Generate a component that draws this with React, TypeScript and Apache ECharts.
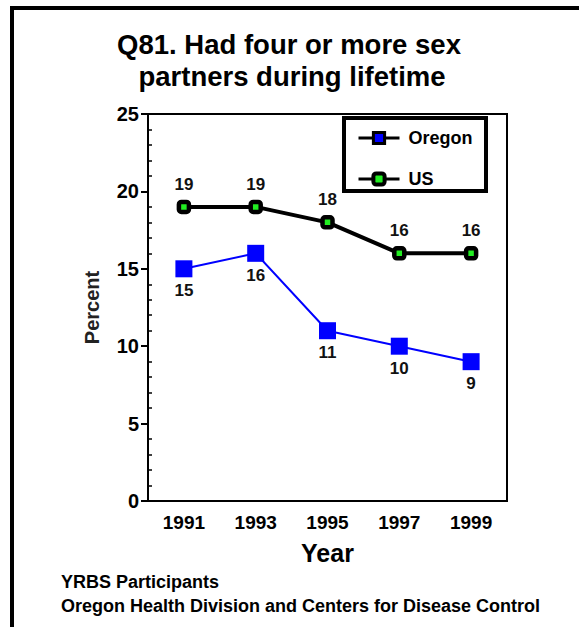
import React, { useEffect, useRef } from "react";
import * as echarts from "echarts";

const years = ["1991", "1993", "1995", "1997", "1999"];
const oregon = [15, 16, 11, 10, 9];
const us = [19, 19, 18, 16, 16];
const titleLines = ["Q81. Had four or more sex", "partners during lifetime"];
const footerLines = [
  "YRBS Participants",
  "Oregon Health Division and Centers for Disease Control",
];

const FONT = "'Liberation Sans', Arial, Helvetica, sans-serif";

export default function App() {
  const ref = useRef<HTMLDivElement>(null);
  useEffect(() => {
    document.body.style.margin = "0";
    const chart = echarts.init(ref.current!, null, { renderer: "svg" });
    const bold = { fontFamily: FONT, fontWeight: "bold" as const, color: "#000" };
    chart.setOption({
      animation: false,
      backgroundColor: "#fff",
      grid: {
        left: 148,
        right: 72,
        top: 114,
        bottom: 126,
        show: true,
        borderColor: "#000",
        borderWidth: 2,
        backgroundColor: "transparent",
      },
      legend: {
        orient: "vertical",
        left: 357,
        top: 129,
        padding: 0,
        itemWidth: 41,
        itemHeight: 14,
        itemGap: 23,
        textStyle: { ...bold, fontSize: 18, padding: [0, 0, 0, 4] },
        data: [
          {
            name: "Oregon",
            itemStyle: { color: "#0000ff", borderColor: "#000", borderWidth: 3 },
            lineStyle: { color: "#000", width: 3 },
          },
          {
            name: "US",
            itemStyle: { color: "#22ee22", borderColor: "#000", borderWidth: 4 },
            lineStyle: { color: "#000", width: 3 },
          },
        ],
      },
      xAxis: {
        type: "category",
        data: years,
        boundaryGap: true,
        axisLine: { lineStyle: { color: "#000", width: 2 } },
        axisTick: { show: false },
        axisLabel: { ...bold, fontSize: 19, margin: 12 },
        name: "Year",
        nameLocation: "middle",
        nameGap: 39,
        nameTextStyle: { ...bold, fontSize: 25 },
      },
      yAxis: [
        {
          type: "value",
          min: 0,
          max: 25,
          interval: 5,
          position: "left",
          axisLine: { show: true, lineStyle: { color: "#000", width: 2 } },
          axisTick: { show: true, length: 7, lineStyle: { color: "#000", width: 2 } },
          axisLabel: { ...bold, fontSize: 20, margin: 9 },
          splitLine: { show: false },
          name: "Percent",
          nameLocation: "middle",
          nameRotate: 90,
          nameGap: 46,
          nameTextStyle: { ...bold, fontSize: 20, color: "#222" },
        },
        {
          type: "value",
          min: 0,
          max: 25,
          interval: 5,
          position: "left",
          offset: 0,
          axisLine: { show: false },
          axisTick: { show: false, inside: true },
          axisLabel: { show: false },
          splitLine: { show: false },
          minorTick: {
            show: true,
            splitNumber: 5,
            length: 4,
            lineStyle: { color: "#000", width: 1.5 },
          },
        },
      ],
      series: [
        {
          name: "Oregon",
          type: "line",
          data: oregon,
          symbol: "rect",
          symbolSize: 17,
          itemStyle: { color: "#0000ff" },
          lineStyle: { color: "#0000ff", width: 2 },
          label: {
            show: true,
            position: "bottom",
            distance: 5,
            ...bold,
            fontSize: 17,
            color: "#111",
          },
          z: 3,
        },
        {
          name: "US",
          type: "line",
          data: us,
          symbol: "roundRect",
          symbolSize: 10,
          itemStyle: { color: "#22ee22", borderColor: "#000", borderWidth: 4.5 },
          lineStyle: { color: "#000", width: 4 },
          label: {
            show: true,
            position: "top",
            distance: 7,
            ...bold,
            fontSize: 17,
            color: "#111",
          },
          z: 4,
        },
      ],
      graphic: [
        {
          type: "line",
          shape: { x1: 10, y1: 8, x2: 579, y2: 8 },
          style: { stroke: "#000", lineWidth: 4 },
        },
        {
          type: "line",
          shape: { x1: 12, y1: 6, x2: 12, y2: 627 },
          style: { stroke: "#000", lineWidth: 4 },
        },
        {
          type: "rect",
          shape: { x: 344, y: 118, width: 142, height: 73 },
          style: { fill: "none", stroke: "#000", lineWidth: 4 },
          z: 10,
        },
        {
          type: "text",
          x: 289,
          y: 44,
          style: {
            text: titleLines[0],
            fontFamily: FONT,
            fontWeight: "bold",
            fontSize: 27.5,
            fill: "#000",
            align: "center",
            verticalAlign: "middle",
          },
        },
        {
          type: "text",
          x: 292,
          y: 76,
          style: {
            text: titleLines[1],
            fontFamily: FONT,
            fontWeight: "bold",
            fontSize: 27.5,
            fill: "#000",
            align: "center",
            verticalAlign: "middle",
          },
        },
        {
          type: "text",
          x: 61,
          y: 582,
          style: {
            text: footerLines[0],
            fontFamily: FONT,
            fontWeight: "bold",
            fontSize: 18,
            fill: "#000",
            align: "left",
            verticalAlign: "middle",
          },
        },
        {
          type: "text",
          x: 61,
          y: 606,
          style: {
            text: footerLines[1],
            fontFamily: FONT,
            fontWeight: "bold",
            fontSize: 18,
            fill: "#000",
            align: "left",
            verticalAlign: "middle",
          },
        },
      ],
    });
    return () => chart.dispose();
  }, []);
  return <div ref={ref} style={{ width: 579, height: 627 }} />;
}
